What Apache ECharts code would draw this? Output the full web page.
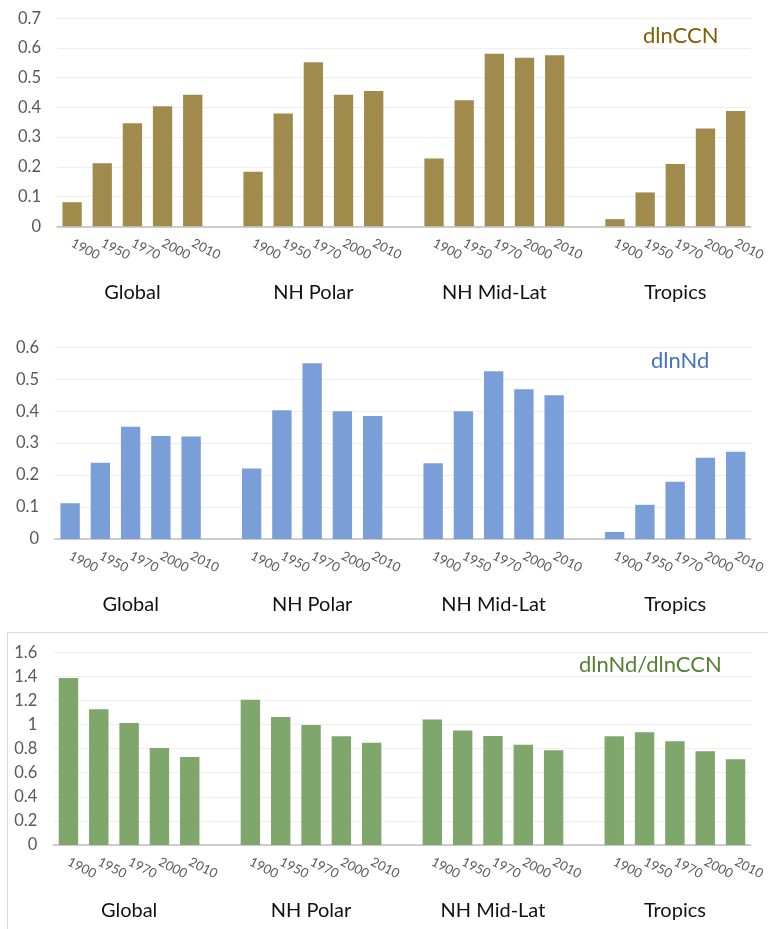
<!DOCTYPE html>
<html>
<head>
<meta charset="utf-8">
<script src="https://cdn.jsdelivr.net/npm/echarts@6/dist/echarts.min.js"></script>
<style>
html,body{margin:0;padding:0;background:#fff;}
#chart{width:768px;height:929px;}
</style>
</head>
<body>
<div id="chart"></div>
<script>
// ---- data ----
var years = ['1900', '1950', '1970', '2000', '2010'];
var regions = ['Global', 'NH Polar', 'NH Mid-Lat', 'Tropics'];

// dlnCCN per region (years 1900,1950,1970,2000,2010)
var ccnGlobal  = [0.081, 0.212, 0.347, 0.404, 0.443];
var ccnPolar   = [0.184, 0.380, 0.552, 0.443, 0.455];
var ccnMidLat  = [0.228, 0.424, 0.581, 0.567, 0.576];
var ccnTropics = [0.024, 0.114, 0.210, 0.329, 0.388];

// dlnNd per region
var ndGlobal  = [0.112, 0.239, 0.351, 0.322, 0.321];
var ndPolar   = [0.221, 0.403, 0.550, 0.400, 0.385];
var ndMidLat  = [0.237, 0.400, 0.525, 0.469, 0.450];
var ndTropics = [0.022, 0.107, 0.179, 0.254, 0.273];

// dlnNd/dlnCCN per region
var ratioGlobal  = [1.387, 1.127, 1.013, 0.806, 0.731];
var ratioPolar   = [1.207, 1.063, 0.997, 0.903, 0.850];
var ratioMidLat  = [1.041, 0.950, 0.905, 0.833, 0.786];
var ratioTropics = [0.903, 0.936, 0.861, 0.778, 0.712];

var seriesNames = ['dlnCCN', 'dlnNd', 'dlnNd/dlnCCN'];
var yMax = [0.7, 0.6, 1.6];
var yStep = [0.1, 0.1, 0.2];

// ---- build category slots (one empty slot between region groups) ----
function buildCats() {
  var c = [];
  regions.forEach(function (r, i) {
    years.forEach(function (y) { c.push(y); });
    if (i < regions.length - 1) c.push('');
  });
  return c;
}
function buildGroupCats() {
  var c = [];
  regions.forEach(function (r, i) {
    years.forEach(function (y, j) { c.push(j === 2 ? r : ''); });
    if (i < regions.length - 1) c.push('');
  });
  return c;
}
function buildValues(groups) {
  var v = [];
  groups.forEach(function (g, i) {
    g.forEach(function (x) { v.push(x); });
    if (i < groups.length - 1) v.push('-');
  });
  return v;
}
var cats = buildCats();
var groupCats = buildGroupCats();
var values = [
  buildValues([ccnGlobal, ccnPolar, ccnMidLat, ccnTropics]),
  buildValues([ndGlobal, ndPolar, ndMidLat, ndTropics]),
  buildValues([ratioGlobal, ratioPolar, ratioMidLat, ratioTropics])
];

var barColors = ['#A08B4C', '#7A9ED7', '#7FA66B'];
var titleColors = ['#7F6000', '#4472C4', '#548235'];
var grids = [
  {left: 57, top: 18.3, width: 700, height: 208},
  {left: 55, top: 347.3, width: 702.7, height: 191.7},
  {left: 53.3, top: 652.3, width: 699.4, height: 192.7}
];
var titlePos = [
  {left: 643, top: 25},
  {left: 651, top: 350},
  {left: 579, top: 654}
];

var FONT = 'Lato, "Open Sans", sans-serif';
var xAxes = [], yAxes = [], series = [], titles = [];
for (var i = 0; i < 3; i++) {
  xAxes.push({
    type: 'category', gridIndex: i, data: cats,
    axisLine: {lineStyle: {color: '#BFBFBF', width: 1.5}},
    axisTick: {show: false},
    axisLabel: {interval: 0, rotate: -27, margin: 16, fontSize: 13, color: '#595959', fontFamily: FONT}
  });
  xAxes.push({
    type: 'category', gridIndex: i, data: groupCats, position: 'bottom',
    axisLine: {show: false}, axisTick: {show: false},
    axisLabel: {interval: 0, margin: 56, fontSize: 20, color: '#111', fontFamily: FONT}
  });
  yAxes.push({
    type: 'value', gridIndex: i, min: 0, max: yMax[i], interval: yStep[i],
    axisLine: {show: false}, axisTick: {show: false},
    splitLine: {lineStyle: {color: '#EFEFEF', width: 1}},
    axisLabel: {margin: 16, fontSize: 16.5, color: '#595959', fontFamily: FONT}
  });
  series.push({
    type: 'bar', name: seriesNames[i], xAxisIndex: i * 2, yAxisIndex: i,
    data: values[i], barCategoryGap: '36%',
    itemStyle: {color: barColors[i]}
  });
  titles.push({
    text: seriesNames[i], left: titlePos[i].left, top: titlePos[i].top, padding: 0,
    textStyle: {color: titleColors[i], fontSize: 22, fontWeight: 'normal', fontFamily: FONT}
  });
}

var chart = echarts.init(document.getElementById('chart'), null, {renderer: 'canvas'});
chart.setOption({
  backgroundColor: '#fff',
  animation: false,
  title: titles,
  grid: grids,
  xAxis: xAxes,
  yAxis: yAxes,
  series: series,
  graphic: [{
    type: 'rect', left: 5, top: 630, z: -1,
    shape: {width: 790, height: 330},
    style: {fill: 'none', stroke: '#D9D9D9', lineWidth: 1}
  }]
});
</script>
</body>
</html>
